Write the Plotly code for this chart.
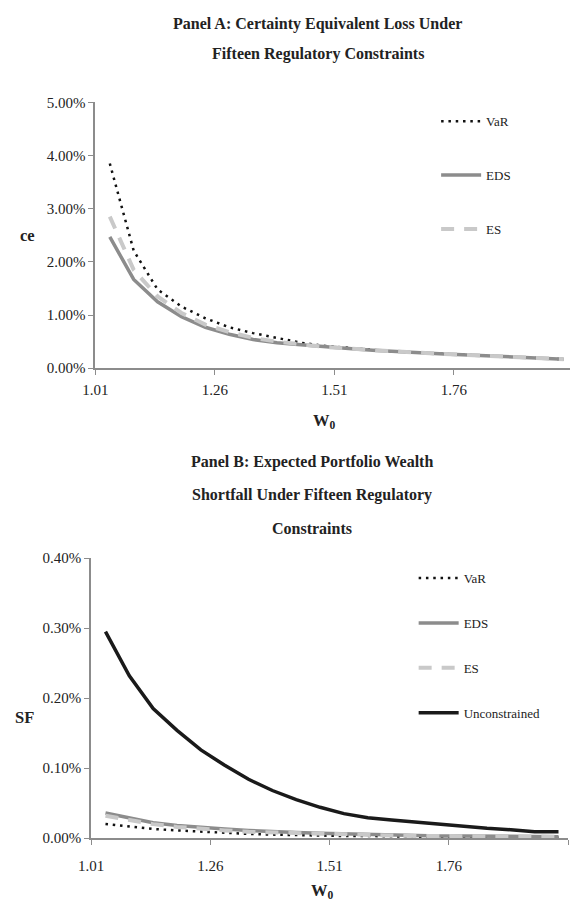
import plotly.graph_objects as go

# ---------------- data ----------------
w0 = [1.04, 1.09, 1.14, 1.19, 1.24, 1.29, 1.34, 1.39, 1.44, 1.49,
      1.54, 1.59, 1.64, 1.69, 1.74, 1.79, 1.84, 1.89, 1.94, 1.99]

# Panel A: certainty equivalent loss (fraction)
ce_var = [0.0385, 0.0221, 0.0148, 0.0116, 0.0094, 0.0077, 0.0066, 0.0057, 0.0048, 0.0042,
          0.0038, 0.0034, 0.0031, 0.0029, 0.0027, 0.0025, 0.0023, 0.0021, 0.0019, 0.0017]
ce_eds = [0.0247, 0.0167, 0.0125, 0.0097, 0.0077, 0.0064, 0.0054, 0.0048, 0.0044, 0.0040,
          0.0037, 0.0034, 0.0031, 0.0029, 0.0027, 0.0025, 0.0023, 0.0021, 0.0019, 0.0017]
ce_es = [0.0285, 0.0185, 0.0135, 0.0104, 0.0082, 0.0068, 0.0057, 0.0050, 0.0045, 0.0040,
         0.0037, 0.0034, 0.0031, 0.0029, 0.0027, 0.0025, 0.0023, 0.0021, 0.0019, 0.0017]

# Panel B: expected portfolio wealth shortfall (fraction)
sf_var = [0.00020, 0.00016, 0.00013, 0.00011, 0.00009, 0.00008, 0.00006, 0.00005, 0.00004, 0.00004,
          0.00003, 0.00003, 0.00002, 0.00002, 0.00002, 0.00001, 0.00001, 0.00001, 0.00001, 0.00001]
sf_eds = [0.00036, 0.00029, 0.00022, 0.00018, 0.00015, 0.00013, 0.00011, 0.00009, 0.00008, 0.00007,
          0.00006, 0.00005, 0.00004, 0.00004, 0.00003, 0.00003, 0.00003, 0.00002, 0.00002, 0.00002]
sf_es = [0.00032, 0.00026, 0.00020, 0.00016, 0.00013, 0.00011, 0.00009, 0.00008, 0.00007, 0.00006,
         0.00005, 0.00005, 0.00004, 0.00003, 0.00003, 0.00003, 0.00002, 0.00002, 0.00002, 0.00002]
sf_unc = [0.00295, 0.00232, 0.00185, 0.00154, 0.00126, 0.00104, 0.00084, 0.00068, 0.00055, 0.00044,
          0.00035, 0.00029, 0.00026, 0.00023, 0.00019, 0.00016, 0.00014, 0.00012, 0.00009, 0.00009]

x_ticks = [1.01, 1.26, 1.51, 1.76]
x_ticks_b = [1.01, 1.26, 1.51, 1.76, 2.01]
x_labels_b = ["1.01", "1.26", "1.51", "1.76", ""]

# ---------------- styling ----------------
W, H = 570, 908
FONT = "Liberation Serif"
AXC = "#8c8c8c"
TXT = "#222222"


def py(px):
    return 1 - px / H


def pxx(px):
    return px / W


fig = go.Figure()

styles = {
    "VaR": dict(color="#111111", width=2.5, dash="2.5px,4.8px"),
    "EDS": dict(color="#8c8c8c", width=3.5),
    "ES": dict(color="#c9c9c9", width=4, dash="13px,10px"),
    "Unconstrained": dict(color="#1a1a1a", width=3.5),
}

for name, ys in [("VaR", ce_var), ("EDS", ce_eds), ("ES", ce_es)]:
    fig.add_trace(go.Scatter(x=w0, y=ys, mode="lines", name=name, line=styles[name],
                             xaxis="x", yaxis="y", legend="legend", legendgroup="a" + name))

for name, ys in [("VaR", sf_var), ("EDS", sf_eds), ("ES", sf_es), ("Unconstrained", sf_unc)]:
    fig.add_trace(go.Scatter(x=w0, y=ys, mode="lines", name=name, line=styles[name],
                             xaxis="x2", yaxis="y2", legend="legend2", legendgroup="b" + name))

axis_common = dict(showline=True, linecolor=AXC, linewidth=2, showgrid=False, zeroline=False,
                   ticks="outside", tickcolor=AXC, tickwidth=1, ticklen=5,
                   tickfont=dict(family=FONT, size=15, color=TXT))

# Panel A axes
xa_left = 84.4
xa_span = (W - xa_left) / 488.9
fig.update_layout(
    xaxis=dict(domain=[pxx(xa_left), 1], range=[1.01, 1.01 + xa_span], anchor="y",
               tickvals=x_ticks, ticktext=[f"{v:.2f}" for v in x_ticks],
               ticklabelstandoff=2, **axis_common),
    yaxis=dict(domain=[py(366.7), py(96)], range=[0, 0.05], anchor="x",
               tickvals=[0, 0.01, 0.02, 0.03, 0.04, 0.05], tickformat=".2%", **axis_common),
    xaxis2=dict(domain=[pxx(80), pxx(568)], range=[1.01, 2.01], anchor="y2",
                tickvals=x_ticks_b, ticktext=x_labels_b, ticklabelstandoff=8, **axis_common),
    yaxis2=dict(domain=[py(845), py(560)], range=[0, 0.004], anchor="x2",
                tickvals=[0, 0.001, 0.002, 0.003, 0.004], tickformat=".2%", **axis_common),
)

legend_common = dict(font=dict(family=FONT, size=13, color=TXT), bgcolor="rgba(0,0,0,0)",
                     itemwidth=40, xanchor="left", yanchor="top", traceorder="grouped",
                     borderwidth=0)
fig.update_layout(
    legend=dict(x=pxx(433), y=py(100), tracegroupgap=34, **legend_common),
    legend2=dict(x=pxx(410), y=py(565), tracegroupgap=25, **legend_common),
)

title_font = dict(family=FONT, size=16, color=TXT)
ann = []
for text, yy, xx in [("<b>Panel A: Certainty Equivalent Loss Under</b>", 16, 312),
                     ("<b>Fifteen Regulatory Constraints</b>", 47, 312),
                     ("<b>Panel B: Expected Portfolio Wealth</b>", 462, 306),
                     ("<b>Shortfall Under Fifteen Regulatory</b>", 496, 306),
                     ("<b>Constraints</b>", 530, 306)]:
    ann.append(dict(text=text, x=pxx(xx), y=py(yy), xref="paper", yref="paper",
                    xanchor="center", yanchor="middle", showarrow=False, font=title_font))
label_font = dict(family=FONT, size=16.5, color=TXT)
ann.append(dict(text="<b>W<sub>0</sub></b>", x=pxx(319), y=py(420), xref="paper", yref="paper",
                xanchor="center", yanchor="middle", showarrow=False, font=label_font))
ann.append(dict(text="<b>W<sub>0</sub></b>", x=pxx(317), y=py(899), xref="paper", yref="paper",
                xanchor="center", yanchor="middle", showarrow=False, font=label_font))
ann.append(dict(text="<b>ce</b>", x=pxx(15), y=py(232), xref="paper", yref="paper",
                xanchor="center", yanchor="middle", showarrow=False, font=label_font))
ann.append(dict(text="<b>SF</b>", x=pxx(12), y=py(722), xref="paper", yref="paper",
                xanchor="center", yanchor="middle", showarrow=False, font=label_font))

fig.update_layout(
    width=W, height=H, margin=dict(l=0, r=0, t=0, b=0),
    paper_bgcolor="white", plot_bgcolor="white",
    annotations=ann, showlegend=True,
)

fig.write_html("out.html")
